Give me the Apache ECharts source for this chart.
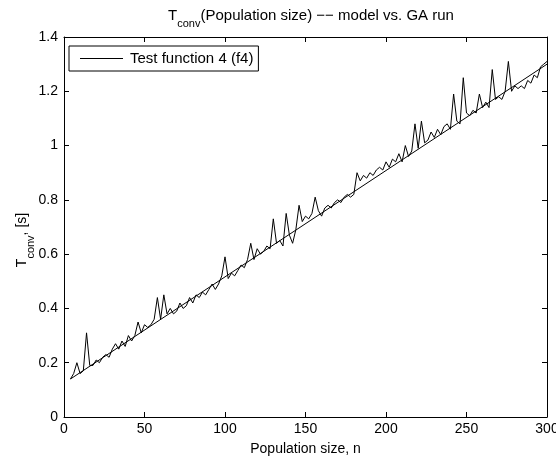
<!DOCTYPE html>
<html>
<head>
<meta charset="utf-8">
<script src="https://cdn.jsdelivr.net/npm/echarts@6/dist/echarts.min.js"></script>
<style>
html,body{margin:0;padding:0;background:#fff;}
#chart{width:556px;height:459px;}
</style>
</head>
<body>
<div id="chart"></div>
<script>
// Population size (x) for the GA run
var popSize = [4,6,8,10,12,14,16,18,20,22,24,26,28,30,32,34,36,38,40,42,44,46,48,50,
52,54,56,58,60,62,64,66,68,70,72,74,76,78,80,82,84,86,88,90,92,94,96,98,100,
102,104,106,108,110,112,114,116,118,120,122,124,126,128,130,132,134,136,138,140,
142,144,146,148,150,152,154,156,158,160,162,164,166,168,170,172,174,176,178,180,
182,184,186,188,190,192,194,196,198,200,202,204,206,208,210,212,214,216,218,220,
222,224,226,228,230,232,234,236,238,240,242,244,246,248,250,252,254,256,258,260,
262,264,266,268,270,272,274,276,278,280,282,284,286,288,290,292,294,296,298,300];
// T_conv measured in the GA run [s]
var gaRun = [0.14,0.16,0.20,0.16,0.17,0.31,0.19,0.19,0.21,0.20,0.22,0.23,0.22,0.25,0.27,0.25,0.28,0.26,0.30,0.28,0.30,0.35,0.31,0.34,
0.33,0.34,0.36,0.44,0.36,0.45,0.38,0.40,0.38,0.39,0.42,0.40,0.41,0.44,0.42,0.45,0.44,0.46,0.45,0.47,0.49,0.47,0.49,0.52,0.59,
0.51,0.53,0.52,0.54,0.56,0.55,0.58,0.64,0.58,0.62,0.60,0.61,0.63,0.62,0.73,0.64,0.65,0.63,0.75,0.67,
0.64,0.69,0.78,0.72,0.74,0.73,0.75,0.81,0.76,0.74,0.77,0.78,0.77,0.79,0.80,0.79,0.81,0.82,0.81,0.82,
0.90,0.87,0.89,0.88,0.90,0.89,0.91,0.92,0.91,0.94,0.92,0.95,0.94,0.97,0.94,1.00,0.96,0.98,1.08,0.99,
1.09,1.01,1.02,1.05,1.03,1.06,1.04,1.07,1.08,1.06,1.19,1.09,1.08,1.25,1.12,1.11,1.13,1.12,1.19,1.14,
1.16,1.14,1.28,1.17,1.18,1.17,1.20,1.31,1.20,1.22,1.21,1.22,1.21,1.24,1.23,1.26,1.25,1.29,1.30,1.31];
// Model line endpoints
var modelX = [4, 300];
var modelY = [0.14, 1.30];
var xTicks = [0,50,100,150,200,250,300];
var yTicks = [0,0.2,0.4,0.6,0.8,1,1.2,1.4];

var gaData = popSize.map(function(n,i){return [n, gaRun[i]];});
var modelData = modelX.map(function(n,i){return [n, modelY[i]];});

var FONT = 'Liberation Sans, Arial, Helvetica, sans-serif';
var FS = 14;
var chart = echarts.init(document.getElementById('chart'), null, {renderer:'canvas'});

function xAxisCfg(pos, showLabel){
  return {
    type:'value', position:pos, min:xTicks[0], max:xTicks[xTicks.length-1], interval:50,
    axisLine:{show:true, onZero:false, lineStyle:{color:'#000', width:1}},
    axisTick:{show:true, inside:true, length:5, lineStyle:{color:'#000'}},
    axisLabel:{show:showLabel, color:'#000', fontSize:FS, fontFamily:FONT, margin:5},
    splitLine:{show:false},
    name: showLabel ? 'Population size, n' : '',
    nameLocation:'middle', nameGap:25,
    nameTextStyle:{color:'#000', fontSize:FS, fontFamily:FONT}
  };
}
function yAxisCfg(pos, showLabel){
  return {
    type:'value', position:pos, min:yTicks[0], max:yTicks[yTicks.length-1], interval:0.2,
    axisLine:{show:true, onZero:false, lineStyle:{color:'#000', width:1}},
    axisTick:{show:true, inside:true, length:5, lineStyle:{color:'#000'}},
    axisLabel:{show:showLabel, color:'#000', fontSize:FS, fontFamily:FONT, margin:6},
    splitLine:{show:false}
  };
}
function richSub(fs){
  return {
    a:{fontSize:fs, fontFamily:FONT, color:'#000', lineHeight:fs+3, verticalAlign:'top'},
    b:{fontSize:11, fontFamily:FONT, color:'#000', lineHeight:12, padding:[13,0,0,0]}
  };
}

chart.setOption({
  animation:false,
  backgroundColor:'#fff',
  title:{
    text:'{a|T}{b|conv}{a|(Population size) −− model vs. GA run}',
    left:306, textAlign:'center', top:3,
    textStyle:{fontFamily:FONT, color:'#000', fontWeight:'normal', rich:richSub(15)}
  },
  legend:{
    data:[{name:'Test function 4 (f4)', icon:'rect'}],
    left:69, top:46,
    orient:'vertical',
    backgroundColor:'#fff',
    borderColor:'#000', borderWidth:1, borderRadius:0,
    padding:[5,5,5,11],
    itemWidth:43, itemHeight:1, itemGap:4,
    textStyle:{color:'#000', fontSize:15, fontFamily:FONT, padding:[0,0,0,2]}
  },
  graphic:[{
    type:'text', x:24, y:240, rotation:Math.PI/2,
    style:{
      text:'{a|T}{b|conv}{a|, [s]}', fill:'#000',
      align:'center', verticalAlign:'middle', rich:richSub(14)
    }
  }],
  grid:{left:64, right:9, top:37, bottom:42, containLabel:false, outerBoundsMode:'none'},
  xAxis:[xAxisCfg('bottom', true), xAxisCfg('top', false)],
  yAxis:[yAxisCfg('left', true), yAxisCfg('right', false)],
  series:[
    {name:'Test function 4 (f4)', type:'line', data:gaData, symbol:'none',
     lineStyle:{color:'#000', width:1}, itemStyle:{color:'#000'}, z:3},
    {name:'model', type:'line', data:modelData, symbol:'none',
     lineStyle:{color:'#000', width:1}, itemStyle:{color:'#000'}, z:2}
  ]
});
</script>
</body>
</html>
